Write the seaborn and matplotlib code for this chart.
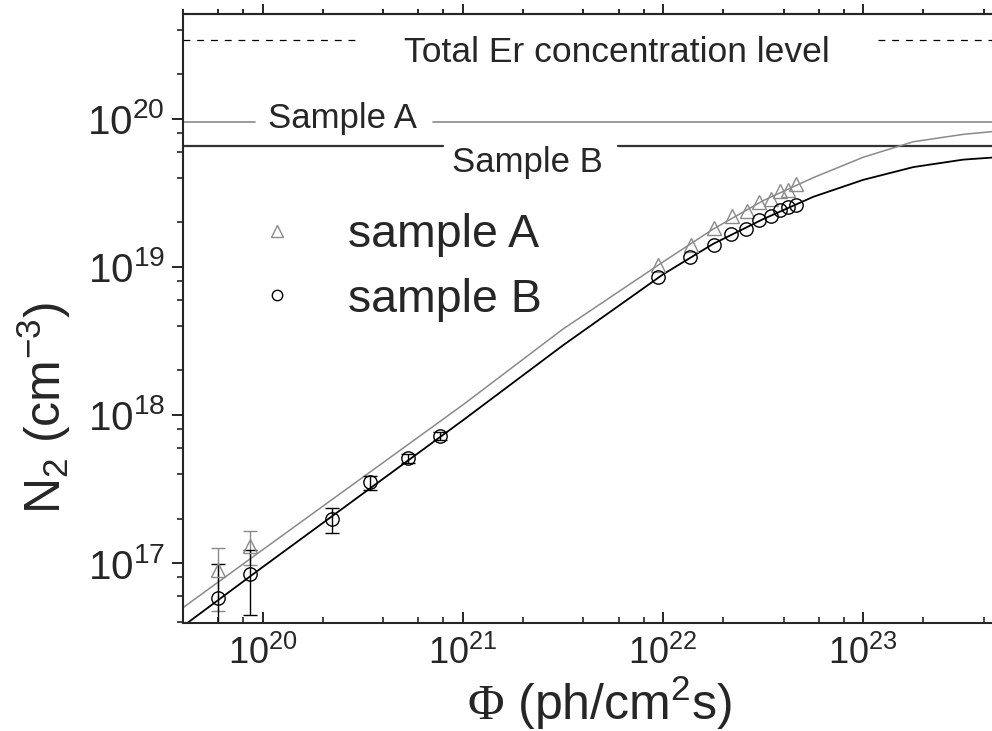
import matplotlib
matplotlib.use('Agg')
import matplotlib.pyplot as plt
import pandas as pd
import seaborn as sns
from matplotlib.ticker import LogLocator, NullFormatter
from matplotlib.lines import Line2D

sns.set_style('ticks')
plt.rcParams['font.family'] = ['Liberation Sans', 'DejaVu Sans']
plt.rcParams['mathtext.fontset'] = 'custom'
plt.rcParams['mathtext.rm'] = 'Liberation Serif'
plt.rcParams['mathtext.sf'] = 'Liberation Sans'
plt.rcParams['mathtext.it'] = 'Liberation Sans:italic'

# ---- data ----
# measured points
phi_A = [6.0e19, 8.6e19, 9.4e21, 1.38e22, 1.79e22, 2.20e22, 2.62e22, 3.03e22,
         3.45e22, 3.85e22, 4.23e22, 4.60e22]
n_A = [9.0e16, 1.31e17, 1.03e19, 1.41e19, 1.83e19, 2.21e19, 2.39e19, 2.73e19,
       2.87e19, 3.23e19, 3.28e19, 3.62e19]
phi_B = [6.0e19, 8.6e19, 2.22e20, 3.43e20, 5.33e20, 7.73e20, 9.4e21, 1.36e22,
         1.79e22, 2.19e22, 2.60e22, 3.02e22, 3.45e22, 3.85e22, 4.23e22, 4.60e22]
n_B = [5.83e16, 8.43e16, 1.98e17, 3.51e17, 5.10e17, 7.25e17, 8.6e18, 1.17e19,
       1.41e19, 1.66e19, 1.81e19, 2.06e19, 2.21e19, 2.43e19, 2.53e19, 2.62e19]

# error bars (upper / lower ends) for the low-flux points
errA_hi = [1.27e17, 1.65e17]
errA_lo = [4.76e16, 0.97e17]
errB_hi = [0.98e17, 1.22e17, 2.37e17, 3.87e17, 5.45e17, 7.70e17]
errB_lo = [1.90e16, 4.45e16, 1.59e17, 3.11e17, 4.75e17, 6.80e17]

# fitted curves
fit_phi = [4.0e19, 1.0e20, 1.0e21, 3.16e21, 1.0e22, 1.78e22, 3.16e22, 5.62e22,
           1.0e23, 1.78e23, 3.16e23, 5.62e23]
fit_A = [5.0e16, 1.23e17, 1.17e18, 3.8e18, 1.08e19, 1.8e19, 2.8e19, 4.0e19,
         5.5e19, 7.0e19, 7.85e19, 8.45e19]
fit_B = [3.75e16, 9.4e16, 9.2e17, 2.95e18, 8.9e18, 1.43e19, 2.1e19, 2.97e19,
         3.87e19, 4.72e19, 5.3e19, 5.6e19]

# concentration levels
total_er = 3.4e20
level_A = 9.5e19
level_B = 6.5e19

GRAY = '#8a8a8a'

fits = pd.DataFrame({'phi': fit_phi, 'A': fit_A, 'B': fit_B})

fig = plt.figure(figsize=(9.92, 7.31), dpi=100)
ax = fig.add_axes([183 / 992, 108 / 731, 809 / 992, 609 / 731])
ax.set_xscale('log')
ax.set_yscale('log')

# horizontal levels (gaps leave room for the labels)
ax.axhline(total_er, xmin=0, xmax=0.213, color='k', lw=0.9, ls=(0, (5.5, 5.5)))
ax.axhline(total_er, xmin=0.859, xmax=1, color='k', lw=0.9, ls=(0, (5.5, 5.5)))
ax.axhline(level_A, xmin=0, xmax=0.089, color=GRAY, lw=1.2)
ax.axhline(level_A, xmin=0.309, xmax=1, color=GRAY, lw=1.2)
ax.axhline(level_B, xmin=0, xmax=0.321, color='#333333', lw=1.6)
ax.axhline(level_B, xmin=0.538, xmax=1, color='#333333', lw=1.6)

sns.lineplot(data=fits, x='phi', y='A', ax=ax, color=GRAY, lw=1.1,
             sort=False, estimator=None)
sns.lineplot(data=fits, x='phi', y='B', ax=ax, color='k', lw=1.3,
             sort=False, estimator=None)

# error bars
nA = len(errA_hi)
nB = len(errB_hi)
ax.errorbar(phi_A[:nA], n_A[:nA],
            yerr=[[n_A[i] - errA_lo[i] for i in range(nA)],
                  [errA_hi[i] - n_A[i] for i in range(nA)]],
            fmt='none', ecolor=GRAY, elinewidth=1, capsize=4.7, capthick=1)
ax.errorbar(phi_B[:nB], n_B[:nB],
            yerr=[[n_B[i] - errB_lo[i] for i in range(nB)],
                  [errB_hi[i] - n_B[i] for i in range(nB)]],
            fmt='none', ecolor='k', elinewidth=1, capsize=4.7, capthick=1)

ax.plot(phi_A, n_A, ls='none', marker='^', ms=10, mfc='none', mec=GRAY, mew=1)
ax.plot(phi_B, n_B, ls='none', marker='o', ms=9.6, mfc='none', mec='k', mew=1)

ax.set_xlim(4.0e19, 4.4e23)
ax.set_ylim(3.94e16, 5.1e20)

# ticks
for axis in (ax.xaxis, ax.yaxis):
    axis.set_major_locator(LogLocator(base=10, numticks=12))
    axis.set_minor_locator(LogLocator(base=10, subs=(2, 4, 6, 8), numticks=12))
    axis.set_minor_formatter(NullFormatter())

ax.tick_params(axis='x', which='both', direction='in', top=False, bottom=True)
ax.tick_params(axis='x', which='major', length=8, width=1.4, labelsize=26, pad=9)
ax.tick_params(axis='x', which='minor', length=4, width=1.2)
ax.tick_params(axis='y', which='both', direction='out', right=False, left=True)
ax.tick_params(axis='y', which='major', length=8, width=1.4, labelsize=29, pad=5)
ax.tick_params(axis='y', which='minor', length=4, width=1.2)

sec = ax.secondary_xaxis('top')
sec.xaxis.set_major_locator(LogLocator(base=10, numticks=12))
sec.xaxis.set_minor_locator(LogLocator(base=10, subs=(2, 4, 6, 8), numticks=12))
sec.xaxis.set_minor_formatter(NullFormatter())
sec.tick_params(which='both', direction='out', labeltop=False, width=1.4)
sec.tick_params(which='major', length=7.5)
sec.tick_params(which='minor', length=3.5)
sec.spines['top'].set_linewidth(1.5)

for side in ('left', 'bottom', 'top'):
    ax.spines[side].set_linewidth(1.5)
ax.spines['right'].set_visible(False)

# labels
ax.set_xlabel(r'$\Phi$ (ph/cm$^{\mathsf{2}}$s)', fontsize=36)
ax.xaxis.label.set_verticalalignment('bottom')
ax.xaxis.set_label_coords(0.515, -0.179)
ax.set_ylabel(r'N$_{\mathsf{2}}$ (cm$^{\mathsf{-3}}$)', fontsize=36)
ax.yaxis.set_label_coords(-0.136, 0.353)

ax.text(0.536, 0.921, 'Total Er concentration level', transform=ax.transAxes,
        ha='center', va='baseline', fontsize=25.5)
ax.text(0.197, 0.813, 'Sample A', transform=ax.transAxes,
        ha='center', va='baseline', fontsize=25)
ax.text(0.426, 0.7406, 'Sample B', transform=ax.transAxes,
        ha='center', va='baseline', fontsize=25)

handles = [
    Line2D([], [], ls='none', marker='^', ms=8, mfc='none', mec=GRAY, mew=1),
    Line2D([], [], ls='none', marker='o', ms=7.5, mfc='none', mec='k', mew=1),
]
ax.legend(handles, ['sample A', 'sample B'], loc='upper left',
          bbox_to_anchor=(0.0878, 0.673), frameon=False, fontsize=33.5,
          borderpad=0, borderaxespad=0, handlelength=1.0,
          handletextpad=1.03, labelspacing=0.44)

fig.savefig('out.png', dpi=100)
